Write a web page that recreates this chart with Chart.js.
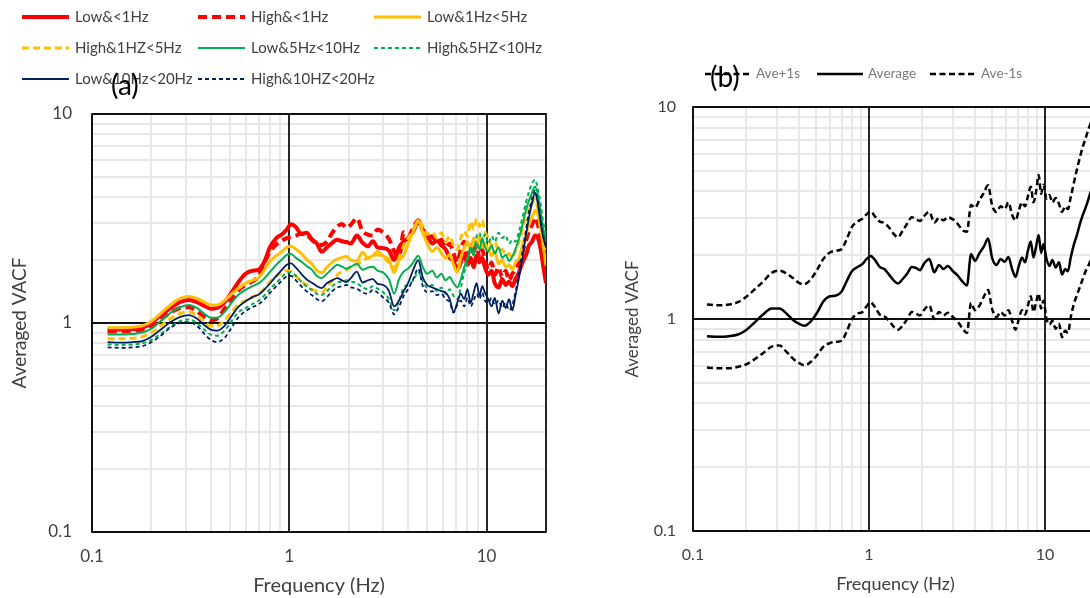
<!DOCTYPE html>
<html>
<head>
<meta charset="utf-8">
<script src="https://cdn.jsdelivr.net/npm/chart.js@4.4.1/dist/chart.umd.min.js"></script>
<style>
  html, body { margin: 0; padding: 0; background: #fff; overflow: hidden; }
  #wrap { position: relative; width: 1090px; height: 598px; overflow: hidden; background: #fff; }
  .panel { position: absolute; top: 0; height: 598px; }
</style>
</head>
<body>
<div id="wrap">
  <div class="panel" style="left:0;width:560px"><canvas id="chartA"></canvas></div>
  <div class="panel" style="left:600px;width:520px"><canvas id="chartB"></canvas></div>
</div>
<script>
// ---- panel (a) data: frequency (Hz) and averaged VACF per group ----
const freqA = [
  0.12, 0.14, 0.16, 0.18, 0.2, 0.22, 0.25, 0.28, 0.31, 0.34, 0.37, 0.4, 0.43, 0.47, 0.51, 0.55, 0.6, 0.65, 0.7, 0.75, 0.8, 0.86, 0.92, 0.97,
  1.02, 1.08, 1.15, 1.22, 1.3, 1.38, 1.46, 1.55, 1.65, 1.75, 1.85, 1.95, 2.05, 2.2, 2.35, 2.5, 2.65, 2.8, 3.0, 3.2, 3.4, 3.6, 3.8,
  4.0, 4.25, 4.5, 4.75, 5.0, 5.3, 5.6, 5.9, 6.2, 6.5, 6.8, 7.1, 7.4, 7.7, 8.0, 8.3, 8.6, 8.9, 9.2, 9.5, 9.8,
  10.2, 10.6, 11.0, 11.5, 12.0, 12.5, 13.0, 13.5, 14.0, 14.6, 15.2, 15.8, 16.4, 17.0, 17.6, 18.2, 18.8, 19.4, 20
];
const lowLt1 = [
  0.93, 0.93, 0.935, 0.95, 1.0, 1.08, 1.18, 1.26, 1.29, 1.26, 1.21, 1.17, 1.18, 1.26, 1.40, 1.56, 1.72, 1.78, 1.80, 1.98, 2.32, 2.55, 2.66, 2.80,
  2.97, 2.88, 2.66, 2.70, 2.52, 2.40, 2.19, 2.30, 2.42, 2.50, 2.46, 2.44, 2.40, 2.62, 2.42, 2.33, 2.46, 2.30, 2.28, 2.22, 2.00, 2.30, 2.45,
  2.55, 2.75, 3.05, 2.80, 2.62, 2.40, 2.48, 2.35, 2.25, 2.05, 1.98, 1.80, 1.95, 2.15, 1.90, 2.05, 1.85, 2.10, 1.95, 2.05, 1.85,
  1.70, 1.78, 1.55, 1.48, 1.62, 1.52, 1.58, 1.50, 1.62, 1.75, 1.95, 2.10, 2.35, 2.45, 2.62, 2.55, 2.25, 1.85, 1.55
];
const highLt1 = [
  0.91, 0.91, 0.915, 0.93, 0.97, 1.03, 1.12, 1.18, 1.19, 1.14, 1.07, 1.03, 1.05, 1.17, 1.30, 1.43, 1.52, 1.58, 1.68, 1.95, 2.20, 2.38, 2.48, 2.55,
  2.58, 2.62, 2.68, 2.66, 2.50, 2.40, 2.36, 2.45, 2.70, 2.90, 2.98, 2.85, 2.95, 3.17, 2.75, 2.65, 2.62, 2.80, 2.70, 2.52, 2.20, 2.07, 2.72,
  2.60, 2.85, 3.10, 2.75, 2.55, 2.60, 2.42, 2.50, 2.30, 2.40, 2.15, 1.95, 2.25, 2.45, 2.10, 2.35, 2.15, 2.40, 2.05, 2.25, 2.00,
  1.80, 1.95, 1.70, 1.85, 1.65, 1.78, 1.60, 1.72, 1.80, 1.95, 2.20, 2.45, 2.75, 2.95, 3.20, 2.95, 2.55, 2.15, 1.80
];
const low1to5 = [
  0.95, 0.95, 0.955, 0.97, 1.02, 1.10, 1.22, 1.31, 1.34, 1.31, 1.26, 1.22, 1.22, 1.28, 1.38, 1.46, 1.55, 1.60, 1.65, 1.80, 1.98, 2.10, 2.20, 2.30,
  2.33, 2.25, 2.15, 2.02, 1.92, 1.78, 1.74, 1.85, 1.95, 2.02, 2.06, 2.08, 2.00, 1.98, 2.18, 2.05, 2.10, 2.20, 2.08, 2.02, 1.74, 2.00, 2.10,
  2.40, 2.75, 3.10, 2.70, 2.40, 2.20, 2.30, 2.15, 2.05, 2.12, 1.90, 1.75, 2.05, 2.30, 2.45, 2.25, 2.55, 2.35, 2.60, 2.30, 2.40,
  2.25, 2.10, 2.20, 1.92, 2.00, 1.85, 1.90, 1.80, 1.95, 2.05, 2.35, 2.65, 2.95, 3.20, 3.45, 3.30, 2.80, 2.30, 1.88
];
const high1to5 = [
  0.84, 0.84, 0.845, 0.86, 0.90, 0.96, 1.05, 1.11, 1.13, 1.09, 1.02, 0.97, 0.97, 1.03, 1.13, 1.22, 1.28, 1.33, 1.38, 1.47, 1.58, 1.68, 1.74, 1.78,
  1.76, 1.68, 1.58, 1.52, 1.45, 1.42, 1.40, 1.48, 1.60, 1.70, 1.76, 1.80, 1.84, 1.90, 1.98, 2.05, 2.08, 2.12, 2.05, 1.95, 1.85, 2.05, 2.35,
  2.55, 2.78, 3.05, 2.90, 2.65, 2.72, 2.55, 2.70, 2.45, 2.60, 2.35, 2.25, 2.55, 2.75, 2.60, 3.05, 2.80, 3.15, 2.90, 3.10, 2.75,
  2.55, 2.35, 2.45, 2.20, 2.25, 2.10, 2.15, 2.05, 2.20, 2.45, 2.80, 3.20, 3.60, 3.75, 3.90, 3.50, 3.00, 2.55, 2.25
];
const low5to10 = [
  0.88, 0.88, 0.885, 0.90, 0.94, 1.01, 1.12, 1.19, 1.22, 1.18, 1.11, 1.06, 1.06, 1.13, 1.25, 1.36, 1.44, 1.50, 1.55, 1.64, 1.76, 1.90, 2.02, 2.12,
  2.14, 2.05, 1.97, 1.88, 1.80, 1.68, 1.64, 1.72, 1.82, 1.90, 1.86, 1.82, 1.86, 1.92, 1.80, 1.84, 1.86, 1.78, 1.74, 1.62, 1.38, 1.62, 1.76,
  1.82, 1.95, 2.10, 1.85, 1.72, 1.78, 1.65, 1.72, 1.60, 1.66, 1.55, 1.48, 1.62, 1.85, 2.05, 2.30, 2.10, 2.40, 2.25, 2.55, 2.30,
  2.20, 2.35, 2.15, 2.30, 2.05, 2.12, 1.98, 2.08, 2.25, 2.55, 2.95, 3.45, 3.85, 4.20, 4.50, 4.10, 3.40, 2.80, 2.45
];
const high5to10 = [
  0.79, 0.785, 0.79, 0.80, 0.83, 0.88, 0.96, 1.02, 1.04, 1.00, 0.93, 0.88, 0.87, 0.92, 1.02, 1.12, 1.18, 1.23, 1.28, 1.36, 1.46, 1.56, 1.66, 1.74,
  1.75, 1.68, 1.58, 1.50, 1.44, 1.38, 1.36, 1.42, 1.50, 1.56, 1.58, 1.60, 1.58, 1.55, 1.48, 1.45, 1.50, 1.46, 1.40, 1.30, 1.15, 1.28, 1.48,
  1.52, 1.60, 1.75, 1.58, 1.48, 1.52, 1.42, 1.48, 1.38, 1.45, 1.35, 1.30, 1.48, 1.75, 1.95, 2.30, 2.15, 2.60, 2.70, 2.45, 2.65,
  2.40, 2.60, 2.45, 2.70, 2.55, 2.62, 2.40, 2.50, 2.45, 2.75, 3.20, 3.75, 4.25, 4.65, 4.85, 4.35, 3.70, 3.00, 2.65
];
const low10to20 = [
  0.81, 0.805, 0.81, 0.82, 0.86, 0.92, 1.01, 1.07, 1.09, 1.05, 0.98, 0.93, 0.92, 0.97, 1.08, 1.19, 1.27, 1.33, 1.37, 1.45, 1.55, 1.68, 1.80, 1.90,
  1.93, 1.84, 1.72, 1.62, 1.56, 1.50, 1.47, 1.55, 1.60, 1.64, 1.60, 1.57, 1.64, 1.76, 1.56, 1.60, 1.62, 1.54, 1.52, 1.42, 1.20, 1.28, 1.42,
  1.55, 1.80, 2.00, 1.65, 1.52, 1.48, 1.45, 1.42, 1.40, 1.30, 1.13, 1.25, 1.38, 1.30, 1.45, 1.25, 1.40, 1.55, 1.35, 1.50, 1.40,
  1.30, 1.20, 1.32, 1.11, 1.28, 1.18, 1.30, 1.15, 1.35, 1.65, 2.05, 2.60, 3.20, 3.75, 4.20, 3.70, 3.00, 2.55, 2.30
];
const high10to20 = [
  0.765, 0.76, 0.765, 0.775, 0.81, 0.86, 0.95, 1.00, 1.01, 0.97, 0.89, 0.83, 0.81, 0.85, 0.95, 1.06, 1.14, 1.19, 1.23, 1.30, 1.40, 1.50, 1.60, 1.67,
  1.68, 1.60, 1.50, 1.42, 1.36, 1.30, 1.27, 1.33, 1.42, 1.48, 1.50, 1.52, 1.48, 1.46, 1.40, 1.38, 1.44, 1.40, 1.32, 1.25, 1.10, 1.20, 1.35,
  1.45, 1.62, 1.82, 1.50, 1.40, 1.42, 1.36, 1.38, 1.30, 1.26, 1.12, 1.22, 1.28, 1.20, 1.32, 1.20, 1.28, 1.38, 1.30, 1.40, 1.28,
  1.25, 1.32, 1.22, 1.28, 1.18, 1.25, 1.15, 1.22, 1.40, 1.75, 2.20, 2.75, 3.40, 3.95, 4.30, 3.80, 3.10, 2.60, 2.35
];
const labelsA = ['Low&<1Hz', 'High&<1Hz', 'Low&1Hz<5Hz', 'High&1HZ<5Hz', 'Low&5Hz<10Hz',
  'High&5HZ<10Hz', 'Low&10Hz<20Hz', 'High&10HZ<20Hz'];

// ---- panel (b) data: average and +/- one standard deviation ----
const freqB = [
  0.12, 0.14, 0.16, 0.18, 0.2, 0.22, 0.25, 0.28, 0.31, 0.34, 0.37, 0.4, 0.43, 0.47, 0.51, 0.55, 0.6, 0.65, 0.7, 0.75, 0.8, 0.86, 0.92, 0.97,
  1.02, 1.08, 1.15, 1.22, 1.3, 1.38, 1.46, 1.55, 1.65, 1.75, 1.85, 1.95, 2.05, 2.2, 2.35, 2.5, 2.65, 2.8, 3.0, 3.2, 3.4, 3.6, 3.8,
  4.0, 4.25, 4.5, 4.75, 5.0, 5.3, 5.6, 5.9, 6.2, 6.5, 6.8, 7.1, 7.4, 7.7, 8.0, 8.3, 8.6, 8.9, 9.2, 9.5, 9.8,
  10.2, 10.6, 11.0, 11.5, 12.0, 12.5, 13.0, 13.5, 14.0, 14.6, 15.2, 15.8, 16.4, 17.0, 17.6, 18.2
];
const avePlus = [
  1.17, 1.16, 1.17, 1.20, 1.27, 1.36, 1.50, 1.65, 1.69, 1.64, 1.56, 1.48, 1.46, 1.55, 1.72, 1.92, 2.06, 2.10, 2.14, 2.40, 2.72, 2.88, 2.98, 3.12,
  3.22, 3.05, 2.88, 2.84, 2.70, 2.52, 2.43, 2.60, 2.82, 3.02, 2.95, 2.90, 3.05, 3.20, 2.85, 3.00, 2.92, 3.02, 2.95, 2.80, 2.62, 2.58, 3.45,
  3.35, 3.65, 3.95, 4.27, 3.45, 3.20, 3.40, 3.30, 3.55, 3.10, 2.92, 3.25, 3.55, 3.40, 3.80, 4.20, 3.55, 4.00, 4.78, 3.90, 4.30,
  3.70, 3.85, 3.55, 3.72, 3.50, 3.20, 3.40, 3.30, 3.75, 4.40, 5.10, 5.80, 6.50, 7.10, 7.80, 8.40
];
const average = [
  0.83, 0.825, 0.83, 0.845, 0.885, 0.95, 1.05, 1.12, 1.12, 1.06, 0.99, 0.95, 0.93, 0.98, 1.08, 1.21, 1.28, 1.29, 1.35, 1.52, 1.68, 1.76, 1.82, 1.92,
  1.98, 1.90, 1.76, 1.72, 1.62, 1.52, 1.47, 1.54, 1.64, 1.76, 1.74, 1.70, 1.82, 1.92, 1.66, 1.80, 1.72, 1.78, 1.68, 1.60, 1.50, 1.44, 2.02,
  1.88, 2.05, 2.20, 2.40, 1.95, 1.80, 1.92, 1.86, 1.96, 1.72, 1.58, 1.78, 1.95, 1.85, 2.10, 2.32, 1.95, 2.20, 2.49, 2.05, 2.25,
  1.92, 1.78, 1.90, 1.75, 1.85, 1.62, 1.72, 1.68, 1.95, 2.25, 2.50, 2.82, 3.10, 3.35, 3.65, 4.00
];
const aveMinus = [
  0.59, 0.585, 0.585, 0.595, 0.61, 0.64, 0.69, 0.74, 0.75, 0.70, 0.65, 0.62, 0.605, 0.63, 0.68, 0.74, 0.77, 0.78, 0.79, 0.88, 1.00, 1.06, 1.08, 1.15,
  1.20, 1.14, 1.05, 1.03, 0.98, 0.92, 0.89, 0.93, 1.00, 1.08, 1.06, 1.04, 1.10, 1.16, 1.00, 1.08, 1.04, 1.07, 1.02, 0.97, 0.90, 0.86, 1.19,
  1.10, 1.16, 1.28, 1.37, 1.12, 1.02, 1.08, 1.04, 1.10, 0.98, 0.89, 1.00, 1.10, 1.05, 1.16, 1.28, 1.08, 1.20, 1.32, 1.12, 1.22,
  1.00, 0.94, 0.98, 0.90, 0.95, 0.82, 0.88, 0.86, 1.02, 1.18, 1.30, 1.42, 1.55, 1.68, 1.78, 1.90
];
const labelsB = ['Ave+1s', 'Average', 'Ave-1s'];

Chart.defaults.font.family = 'Lato, "Open Sans", sans-serif';
Chart.defaults.color = '#404040';

const pairs = (xs, ys) => ys.map((y, i) => ({ x: xs[i], y: y }));
const isDecade = v => Math.abs(Math.log10(v) - Math.round(Math.log10(v))) < 1e-6;
const fmt = v => (v >= 1 ? String(Math.round(v)) : String(Math.round(v * 10) / 10));

// gridline positions 1..9 x each decade between min and max
function logGrid(min, max) {
  const out = [];
  for (let e = Math.floor(Math.log10(min)); e <= Math.ceil(Math.log10(max)); e++) {
    for (let m = 1; m <= 9; m++) {
      const v = Math.round(m * Math.pow(10, e) * 1000) / 1000;
      if (v >= min - 1e-9 && v <= max + 1e-9) out.push(v);
    }
  }
  if (out[out.length - 1] < max) out.push(max);
  return out;
}

function logScales(o) {
  // all gridlines light grey here; the black decade lines are drawn by the frame plugin
  const grid = { drawTicks: false, color: '#e8e8e8', lineWidth: 2 };
  return {
    x: {
      type: 'logarithmic', min: 0.1, max: 20,
      grid: grid, border: { display: false },
      afterBuildTicks: s => { s.ticks = logGrid(0.1, 20).map(v => ({ value: v })); },
      afterFit: s => { s.height = o.xHeight; },
      ticks: { autoSkip: false, maxRotation: 0, padding: o.xPad, color: '#404040',
        font: { size: o.tick }, callback: v => (isDecade(v) ? fmt(v) : '') },
      title: { display: true, text: 'Frequency (Hz)', color: '#404040',
        font: { size: o.title }, padding: { top: 0, bottom: o.xTitlePad } },
    },
    y: {
      type: 'logarithmic', min: 0.1, max: 10,
      grid: grid, border: { display: false },
      afterBuildTicks: s => { s.ticks = logGrid(0.1, 10).map(v => ({ value: v })); },
      afterFit: s => { s.width = o.yWidth; },
      ticks: { autoSkip: false, padding: o.yPad, color: '#404040',
        font: { size: o.tick }, callback: v => (isDecade(v) ? fmt(v) : '') },
      title: { display: true, text: 'Averaged VACF', color: '#404040',
        font: { size: o.yTitle || o.title }, padding: { top: o.yTitlePad, bottom: 0 } },
    },
  };
}

// black decade lines and frame around the plot area
const frame = {
  id: 'frame',
  beforeDatasetsDraw(chart) {
    const a = chart.chartArea, ctx = chart.ctx;
    const xs = chart.scales.x, ys = chart.scales.y;
    ctx.save();
    ctx.strokeStyle = '#111';
    ctx.lineWidth = 1.8;
    ctx.beginPath();
    xs.ticks.forEach(t => {
      if (isDecade(t.value)) {
        const px = Math.round(xs.getPixelForValue(t.value));
        ctx.moveTo(px, a.top); ctx.lineTo(px, a.bottom);
      }
    });
    ys.ticks.forEach(t => {
      if (isDecade(t.value)) {
        const py = Math.round(ys.getPixelForValue(t.value));
        ctx.moveTo(a.left, py); ctx.lineTo(a.right, py);
      }
    });
    ctx.stroke();
    ctx.strokeRect(a.left, a.top, a.right - a.left, a.bottom - a.top);
    ctx.restore();
  }
};

// legend drawn on a fixed grid, Excel style
const gridLegend = {
  id: 'gridLegend',
  afterDraw(chart, args, opts) {
    const ctx = chart.ctx;
    chart.data.datasets.forEach((ds, i) => {
      const x0 = opts.cols[i % opts.cols.length];
      const y = opts.rows[Math.floor(i / opts.cols.length)];
      ctx.save();
      ctx.strokeStyle = ds.borderColor;
      ctx.lineWidth = ds.borderWidth;
      ctx.setLineDash(ds.borderDash || []);
      ctx.beginPath();
      ctx.moveTo(x0, y);
      ctx.lineTo(x0 + opts.lineLen, y);
      ctx.stroke();
      ctx.setLineDash([]);
      ctx.fillStyle = opts.textColor;
      ctx.font = opts.fontSize + 'px Lato, "Open Sans", sans-serif';
      ctx.textBaseline = 'middle';
      ctx.fillText(ds.label, x0 + opts.lineLen + opts.gap, y);
      ctx.restore();
    });
    ctx.save();
    ctx.fillStyle = '#000';
    ctx.font = opts.tagSize + 'px Lato, "Open Sans", sans-serif';
    ctx.textBaseline = 'middle';
    ctx.fillText(opts.tag, opts.tagX, opts.tagY);
    ctx.restore();
  }
};

const styleA = [
  { color: '#ff0000', width: 4, dash: [] },
  { color: '#ff0000', width: 4, dash: [9, 5] },
  { color: '#ffc000', width: 3, dash: [] },
  { color: '#ffc000', width: 3, dash: [7, 4] },
  { color: '#00b050', width: 2, dash: [] },
  { color: '#00b050', width: 2, dash: [4, 3] },
  { color: '#002060', width: 1.8, dash: [] },
  { color: '#002060', width: 1.8, dash: [4, 3] },
];
const seriesA = [lowLt1, highLt1, low1to5, high1to5, low5to10, high5to10, low10to20, high10to20];

new Chart(document.getElementById('chartA'), {
  type: 'line',
  data: {
    datasets: seriesA.map((vals, i) => ({
      label: labelsA[i],
      data: pairs(freqA, vals),
      borderColor: styleA[i].color,
      borderWidth: styleA[i].width,
      borderDash: styleA[i].dash,
      pointRadius: 0,
      cubicInterpolationMode: 'monotone',
      fill: false,
      order: seriesA.length - i,
    })),
  },
  options: {
    responsive: true,
    maintainAspectRatio: false,
    animation: false,
    layout: { padding: { top: 114, right: 13, left: 0, bottom: 0 } },
    scales: logScales({ xHeight: 66, yWidth: 92, xPad: 14, yPad: 20, tick: 17, title: 20, yTitle: 19, xTitlePad: 0, yTitlePad: 8 }),
    plugins: {
      legend: { display: false },
      tooltip: { enabled: false },
      gridLegend: { cols: [22, 198, 374], rows: [17, 48, 79], lineLen: 47, gap: 6,
        fontSize: 15, textColor: '#404040', tag: '(a)', tagX: 111, tagY: 86, tagSize: 28 },
    },
  },
  plugins: [frame, gridLegend],
});

const styleB = [
  { width: 2.5, dash: [6, 3.5] },
  { width: 2.5, dash: [] },
  { width: 2.5, dash: [6, 3.5] },
];
const seriesB = [avePlus, average, aveMinus];

new Chart(document.getElementById('chartB'), {
  type: 'line',
  data: {
    datasets: seriesB.map((vals, i) => ({
      label: labelsB[i],
      data: pairs(freqB, vals),
      borderColor: '#000',
      borderWidth: styleB[i].width,
      borderDash: styleB[i].dash,
      pointRadius: 0,
      cubicInterpolationMode: 'monotone',
      fill: false,
    })),
  },
  options: {
    responsive: true,
    maintainAspectRatio: false,
    animation: false,
    layout: { padding: { top: 107, right: 22, left: 0, bottom: 0 } },
    scales: logScales({ xHeight: 67, yWidth: 93, xPad: 14, yPad: 17, tick: 16, title: 18, yTitle: 17, xTitlePad: 3, yTitlePad: 22 }),
    plugins: {
      legend: { display: false },
      tooltip: { enabled: false },
      gridLegend: { cols: [105, 217, 330], rows: [74], lineLen: 46, gap: 5,
        fontSize: 13.5, textColor: '#7a7a7a', tag: '(b)', tagX: 110, tagY: 78, tagSize: 28 },
    },
  },
  plugins: [frame, gridLegend],
});
</script>
</body>
</html>
